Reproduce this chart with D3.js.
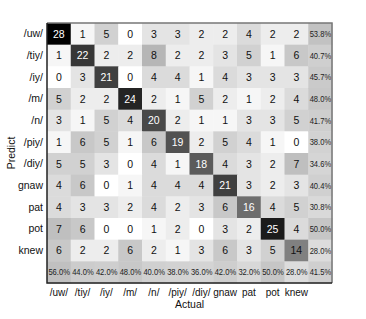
<!DOCTYPE html>
<html>
<head>
<meta charset="utf-8">
<script src="https://cdn.jsdelivr.net/npm/d3@7"></script>
<style>
  body { margin: 0; background: #fff; }
  svg text { font-family: "Liberation Sans", Arial, sans-serif; }
</style>
</head>
<body>
<div id="display"></div>
<script>
// class labels (rows = predicted, columns = actual)
const labels = ['/uw/', '/tiy/', '/iy/', '/m/', '/n/', '/piy/', '/diy/', 'gnaw', 'pat', 'pot', 'knew'];

const counts = [
  [28, 1, 5, 0, 3, 3, 2, 2, 4, 2, 2],
  [1, 22, 2, 2, 8, 2, 2, 3, 5, 1, 6],
  [0, 3, 21, 0, 4, 4, 1, 4, 3, 3, 3],
  [5, 2, 2, 24, 2, 1, 5, 2, 1, 2, 4],
  [3, 1, 5, 4, 20, 2, 1, 1, 3, 3, 5],
  [1, 6, 5, 1, 6, 19, 2, 5, 4, 1, 0],
  [5, 5, 3, 0, 4, 1, 18, 4, 3, 2, 7],
  [4, 6, 0, 1, 4, 4, 4, 21, 3, 2, 3],
  [4, 3, 3, 2, 4, 2, 3, 6, 16, 4, 5],
  [7, 6, 0, 0, 1, 2, 0, 3, 2, 25, 4],
  [6, 2, 2, 6, 2, 1, 3, 6, 3, 5, 14]
];

// precision per row (right column) and recall per column (bottom row)
const rowPct = [53.8, 40.7, 45.7, 48.0, 41.7, 38.0, 34.6, 40.4, 30.8, 50.0, 28.0];
const colPct = [56.0, 44.0, 42.0, 48.0, 40.0, 38.0, 36.0, 42.0, 32.0, 50.0, 28.0];
const totalPct = 41.5;

let margin = {top: 23, right: 34, bottom: 36, left: 47};
let width = 366 - margin.left - margin.right;
let height = 319 - margin.top - margin.bottom;

let svg = d3.select('#display')
  .append('svg')
    .attr('width', 366)
    .attr('height', 319)
  .append('g')
    .attr('transform', 'translate(' + margin.left + ',' + margin.top + ')');

let keys = labels.concat(['__pct']);

let x = d3.scaleBand().domain(keys).range([0, width]).padding(0);
let y = d3.scaleBand().domain(keys).range([0, height]).padding(0);

// count color: 0 -> white, 28 -> black
let countColor = d3.scaleLinear().domain([0, 28]).range(['#ffffff', '#000000']);
let pctColor = d3.scaleLinear().domain([28, 56]).range(['#dcdcdc', '#c0c0c0']);

// flatten cells
let cells = [];
counts.forEach((row, i) => {
  row.forEach((v, j) => {
    cells.push({r: labels[i], c: labels[j], v: v});
  });
});
let pctCells = [];
rowPct.forEach((p, i) => pctCells.push({r: labels[i], c: '__pct', p: p}));
colPct.forEach((p, j) => pctCells.push({r: '__pct', c: labels[j], p: p}));
pctCells.push({r: '__pct', c: '__pct', p: totalPct});

svg.append('g')
  .selectAll('rect')
  .data(cells)
  .join('rect')
    .attr('x', d => x(d.c))
    .attr('y', d => y(d.r))
    .attr('width', x.bandwidth() + 0.5)
    .attr('height', y.bandwidth() + 0.5)
    .attr('fill', d => countColor(d.v));

svg.append('g')
  .selectAll('rect')
  .data(pctCells)
  .join('rect')
    .attr('x', d => x(d.c))
    .attr('y', d => y(d.r))
    .attr('width', x.bandwidth() + 0.5)
    .attr('height', y.bandwidth() + 0.5)
    .attr('fill', d => pctColor(d.p));

svg.append('g')
  .selectAll('text')
  .data(cells)
  .join('text')
    .attr('x', d => x(d.c) + x.bandwidth() / 2)
    .attr('y', d => y(d.r) + y.bandwidth() / 2)
    .attr('dy', '0.36em')
    .attr('text-anchor', 'middle')
    .attr('font-size', 10.5)
    .attr('fill', d => d.v >= 15 ? '#ffffff' : '#111111')
    .text(d => d.v);

svg.append('g')
  .selectAll('text')
  .data(pctCells)
  .join('text')
    .attr('x', d => x(d.c) + x.bandwidth() / 2 - 10.5)
    .attr('y', d => y(d.r) + y.bandwidth() / 2)
    .attr('dy', '0.36em')
    .attr('font-size', 8.5)
    .attr('textLength', 21.5)
    .attr('lengthAdjust', 'spacingAndGlyphs')
    .attr('fill', '#222')
    .text(d => d.p.toFixed(1) + '%');

// box border
svg.append('path')
  .attr('d', `M0,0H${width}V${height}`)
  .attr('fill', 'none')
  .attr('stroke', '#777')
  .attr('stroke-width', 1.5);
svg.append('path')
  .attr('d', `M0,0V${height}H${width}`)
  .attr('fill', 'none')
  .attr('stroke', '#222')
  .attr('stroke-width', 1.5);

// axes (labels only, no tick lines)
let yAxis = svg.append('g')
  .call(d3.axisLeft(y).tickValues(labels).tickSize(0).tickPadding(4));
yAxis.select('.domain').remove();
yAxis.selectAll('text')
  .attr('font-size', 10.5)
  .attr('font-family', '"Liberation Sans", Arial, sans-serif')
  .attr('fill', '#111');

let xAxis = svg.append('g')
  .attr('transform', 'translate(0,' + height + ')')
  .call(d3.axisBottom(x).tickValues(labels).tickSize(0).tickPadding(6));
xAxis.select('.domain').remove();
xAxis.selectAll('text')
  .attr('font-size', 10)
  .attr('font-family', '"Liberation Sans", Arial, sans-serif')
  .attr('fill', '#111');

// axis titles
svg.append('text')
  .attr('x', width / 2)
  .attr('y', height + 25)
  .attr('text-anchor', 'middle')
  .attr('font-size', 10.5)
  .attr('fill', '#111')
  .text('Actual');

svg.append('text')
  .attr('transform', 'translate(' + (-32) + ',' + (height / 2) + ') rotate(-90)')
  .attr('text-anchor', 'middle')
  .attr('font-size', 10.5)
  .attr('fill', '#111')
  .text('Predict');
</script>
</body>
</html>
